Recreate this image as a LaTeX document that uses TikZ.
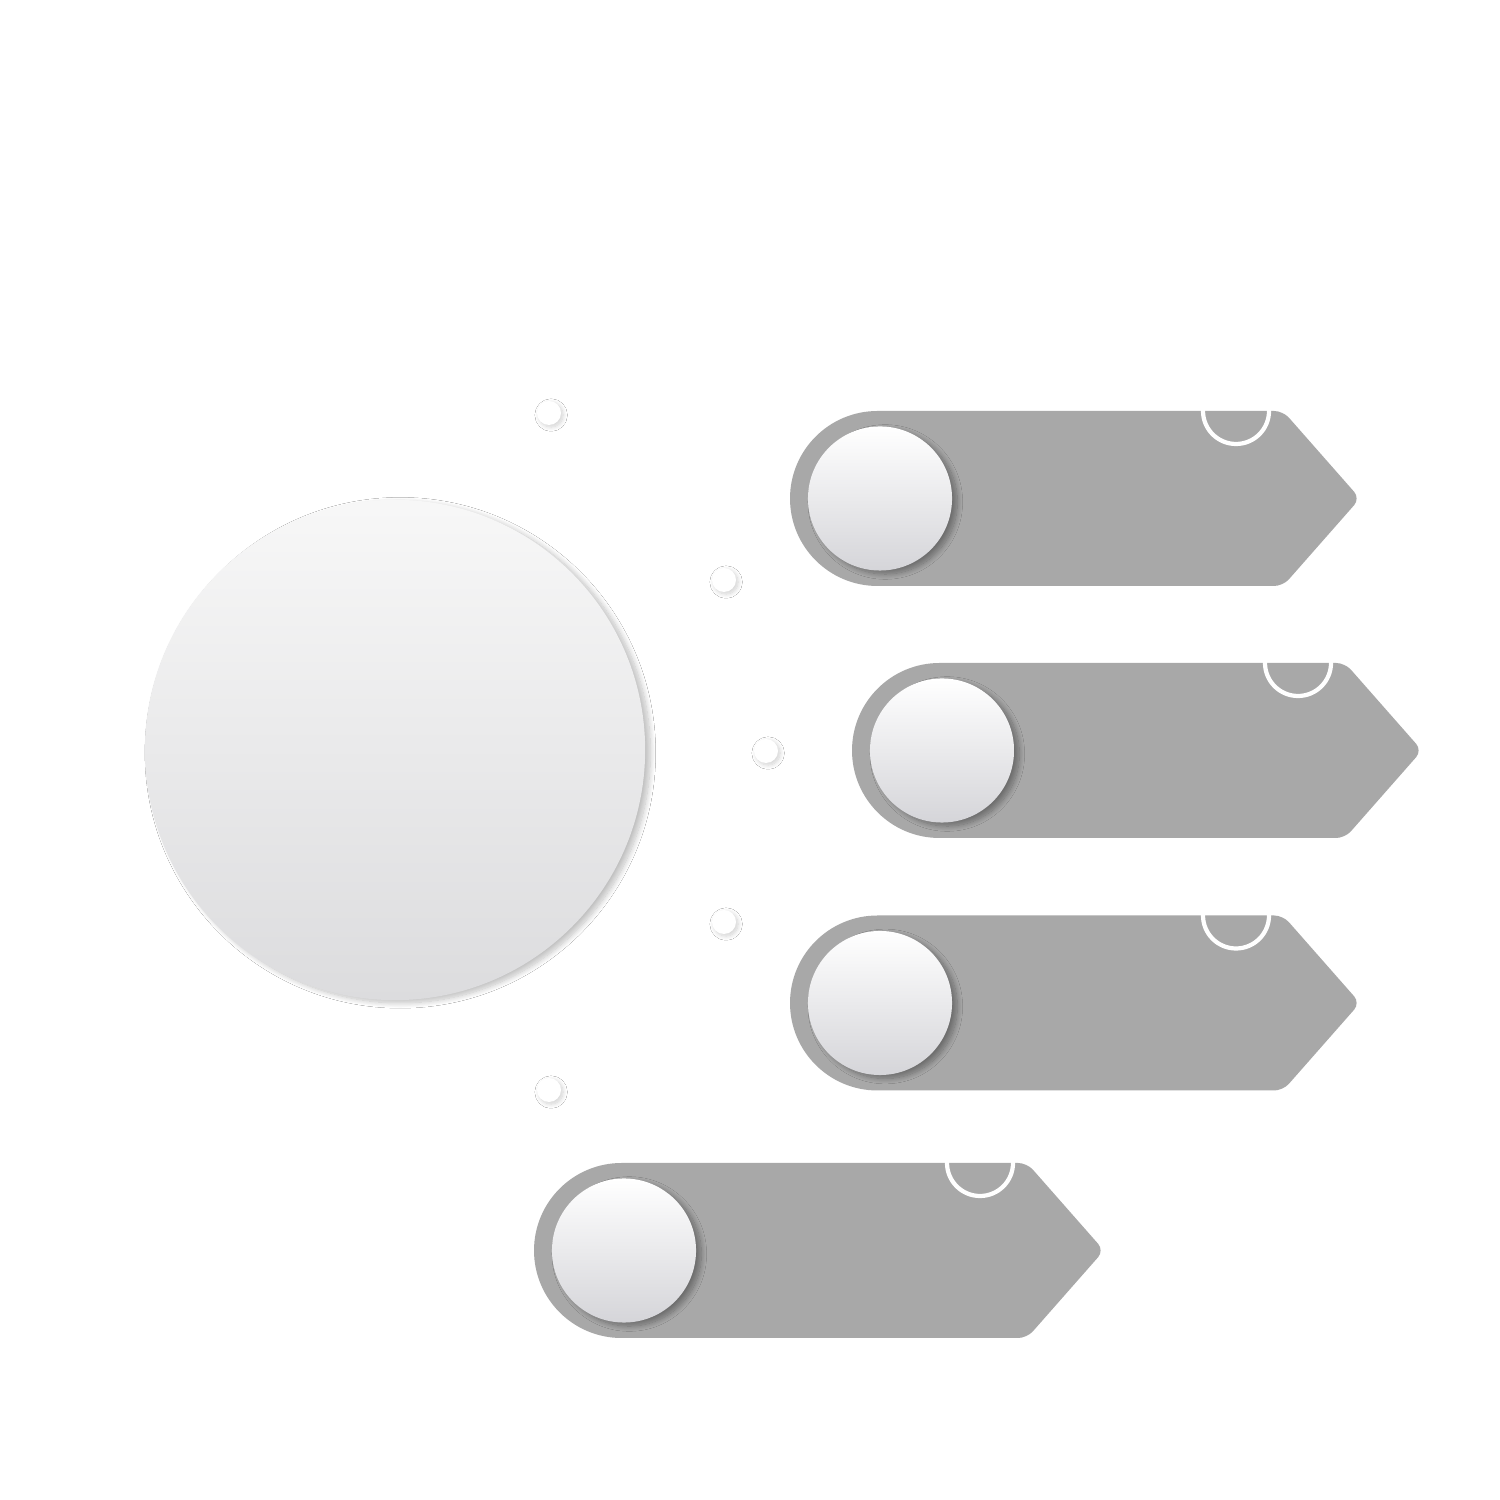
\documentclass[tikz,border=0pt]{standalone}
\usepackage{tikz}
\usepackage{xcolor}
\usetikzlibrary{positioning, calc, shadows.blur}

\definecolor{bandgray}{HTML}{A8A8A8}
\definecolor{discbot}{HTML}{D5D5D9}
\definecolor{hubbot}{HTML}{DCDCDE}

\tikzset{
  hub/.style={circle, inner sep=0pt, minimum size=5cm, top color=white!97!black, bottom color=hubbot,
    blur shadow={shadow xshift=1.5pt, shadow yshift=-0.8pt, shadow blur radius=1.5pt, shadow blur steps=12, shadow opacity=25}},
  disc/.style={circle, inner sep=0pt, minimum size=1.44cm, top color=white, bottom color=discbot,
    blur shadow={shadow xshift=1.5pt, shadow yshift=-1pt, shadow blur radius=1.5pt, shadow blur steps=12, shadow opacity=35}},
  dot/.style={circle, inner sep=0pt, minimum size=0.24cm, fill=white,
    blur shadow={shadow xshift=0.6pt, shadow yshift=-0.6pt, shadow blur radius=1.2pt, shadow blur steps=10, shadow opacity=18}},
  notch/.style={draw=white, line width=1.2pt}
}

% banner: #1 left x, #2 middle y, #3 tip x, #4 name
\newcommand{\band}[4]{%
  \fill[bandgray] (#1+87.5,#2-87.5) arc (-90:-270:87.5)
    {[rounded corners=2.5pt] -- (#3-74,#2+87.5) -- (#3+3,#2) -- (#3-74,#2-87.5)} -- cycle;
  \begin{scope}
    \clip (#1,#2-87.5) rectangle (#3,#2+87.5);
    \draw[notch] (#3-121,#2+87.5) circle (33);
  \end{scope}
  \node[disc] (#4) at (#1+90,#2) {};
}

\begin{document}
\begin{tikzpicture}[x=0.01cm, y=0.01cm]
  \useasboundingbox[fill=white] (0,0) rectangle (1500,1500);
  % grosser kreis
  \node[hub] (hub) at (395,750) {};
  % kleine punkte
  \node[dot] (d1) at (549,1087) {};
  \node[dot] (d2) at (724,920) {};
  \node[dot] (d3) at (766,749) {};
  \node[dot] (d4) at (724,578) {};
  \node[dot] (d5) at (549,410) {};
  % baender
  \band{790}{1001.5}{1357}{b1}
  \band{852}{749.5}{1419}{b2}
  \band{790}{497}{1357}{b3}
  \band{534}{249.5}{1101}{b4}
\end{tikzpicture}
\end{document}
